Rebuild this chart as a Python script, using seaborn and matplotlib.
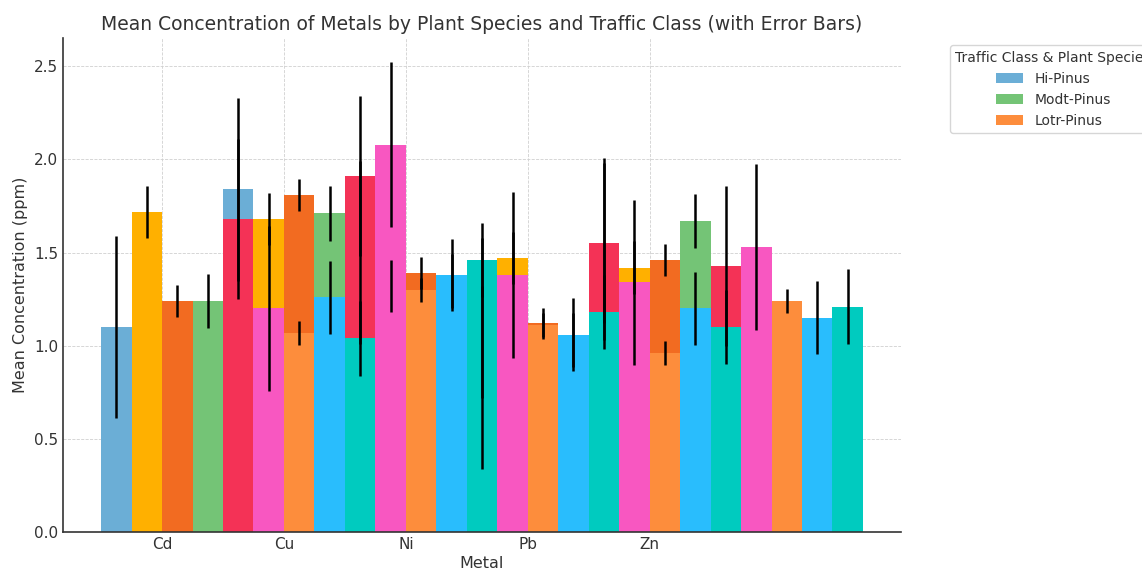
import numpy as np
import matplotlib
matplotlib.use("Agg")
import matplotlib.pyplot as plt
import seaborn as sns

# Metals on the x axis
metals = ["Cd", "Cu", "Ni", "Pb", "Zn"]

# Traffic class / plant species combinations (only the Pinus ones got a legend label)
combo_labels = [
    "Hi-Pinus", "_Hi-2", "_Hi-3",
    "Modt-Pinus", "_Modt-2", "_Modt-3",
    "Lotr-Pinus", "_Lotr-2", "_Lotr-3",
]
combo_colors = [
    "#6baed6", "#ffb000", "#f26b21",
    "#74c476", "#f43256", "#f857c1",
    "#fd8d3c", "#29bdfd", "#00cbbf",
]

# Mean concentration (ppm) per combination, one value per metal
combo_means = [
    [1.10, 1.84, 1.50, 0.83, 1.52],
    [1.72, 1.68, 1.32, 1.47, 1.42],
    [1.24, 1.81, 1.39, 1.12, 1.46],
    [1.24, 1.71, 1.35, 1.03, 1.67],
    [1.68, 1.91, 1.15, 1.55, 1.43],
    [1.20, 2.08, 1.38, 1.34, 1.53],
    [1.07, 1.30, 1.11, 0.96, 1.24],
    [1.26, 1.38, 1.06, 1.20, 1.15],
    [1.04, 1.46, 1.18, 1.10, 1.21],
]
# One error value per combination
combo_errors = [0.49, 0.14, 0.085, 0.145, 0.43, 0.445, 0.065, 0.195, 0.20]

BAR_WIDTH = 0.25
TEXT_COLOR = "#333333"


def main():
    sns.set_theme(style="whitegrid")
    plt.rcParams["font.family"] = ["DejaVu Sans"]
    plt.rcParams["text.color"] = TEXT_COLOR
    plt.rcParams["axes.labelcolor"] = TEXT_COLOR
    plt.rcParams["xtick.color"] = TEXT_COLOR
    plt.rcParams["ytick.color"] = TEXT_COLOR

    fig, ax = plt.subplots(figsize=(11.42, 5.70), dpi=100)
    fig.subplots_adjust(left=0.0552, right=0.789, top=0.933, bottom=0.0667)

    base = np.arange(len(metals))
    for i, (label, color, means, err) in enumerate(
        zip(combo_labels, combo_colors, combo_means, combo_errors)
    ):
        pos = base + (i - 1.5) * BAR_WIDTH
        sns.barplot(
            x=pos,
            y=means,
            native_scale=True,
            width=BAR_WIDTH,
            color=color,
            saturation=1,
            errorbar=None,
            linewidth=0,
            label=label,
            ax=ax,
        )
        ax.errorbar(pos, means, yerr=err, fmt="none", ecolor="black",
                    elinewidth=1.8, capsize=0)

    ax.set_xticks(base, metals)
    ax.set_title(
        "Mean Concentration of Metals by Plant Species and Traffic Class (with Error Bars)",
        fontsize=13.5, color=TEXT_COLOR,
    )
    ax.set_xlabel("Metal", fontsize=11.5, labelpad=3)
    ax.set_ylabel("Mean Concentration (ppm)", fontsize=11.5)
    ax.tick_params(axis="both", labelsize=11, direction="in", length=4,
                   width=1, color=TEXT_COLOR)

    # Dashed light grid, only left/bottom spines
    ax.grid(True, linestyle="--", linewidth=0.6, color="#d0d0d0")
    ax.set_axisbelow(True)
    for side in ["top", "right"]:
        ax.spines[side].set_visible(False)
    for side in ["left", "bottom"]:
        ax.spines[side].set_color(TEXT_COLOR)
        ax.spines[side].set_linewidth(1.2)

    ax.legend(title="Traffic Class & Plant Species", bbox_to_anchor=(1.05, 1),
              loc="upper left", fontsize=10, title_fontsize=10)

    plt.savefig("out.png", dpi=100)
    plt.close()


if __name__ == "__main__":
    main()
